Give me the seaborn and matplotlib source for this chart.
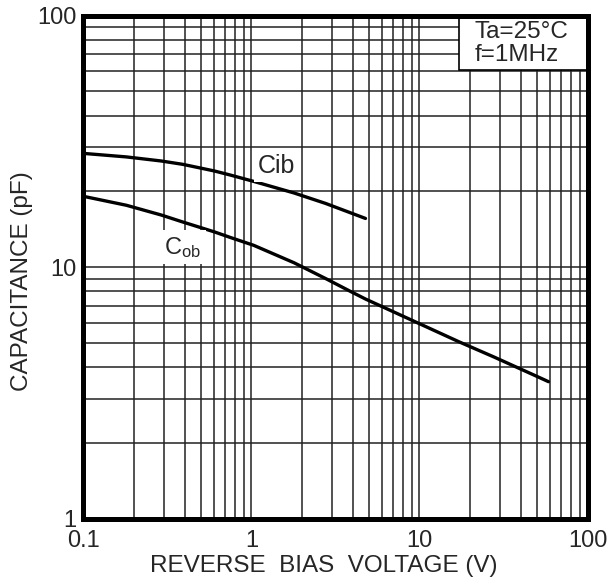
import numpy as np
import pandas as pd
import matplotlib
matplotlib.use("Agg")
import matplotlib.pyplot as plt
from matplotlib.patches import Rectangle
from matplotlib.ticker import LogLocator, FixedLocator, FixedFormatter
import seaborn as sns

# Capacitance vs reverse bias voltage (Ta=25°C, f=1MHz)
cib_voltage = [0.1, 0.18, 0.29, 0.39, 0.6, 0.75, 1.03, 1.79, 2.76, 4.77]
cib_pf = [28.3, 27.4, 26.4, 25.6, 24.1, 23.2, 21.9, 19.7, 17.9, 15.6]

cob_voltage = [0.1, 0.18, 0.29, 0.39, 0.6, 0.75, 1.03, 1.79, 2.76, 3.88,
               4.77, 9.73, 17.1, 27.7, 48.4, 58.6]
cob_pf = [19.1, 17.6, 16.1, 15.1, 13.8, 13.1, 12.2, 10.4, 9.0, 8.0,
          7.46, 6.0, 5.05, 4.39, 3.71, 3.50]

x_ticks = [0.1, 1, 10, 100]
x_tick_labels = ["0.1", "1", "10", "100"]
y_ticks = [1, 10, 100]
y_tick_labels = ["1", "10", "100"]

df = pd.concat([
    pd.DataFrame({"V": cib_voltage, "C": cib_pf, "curve": "Cib"}),
    pd.DataFrame({"V": cob_voltage, "C": cob_pf, "curve": "Cob"}),
])

sns.set_style("white")
plt.rcParams["font.family"] = ["Liberation Sans", "DejaVu Sans"]
plt.rcParams["mathtext.fontset"] = "custom"
plt.rcParams["mathtext.rm"] = "Liberation Sans"
plt.rcParams["mathtext.it"] = "Liberation Sans"

fig = plt.figure(figsize=(6.08, 5.83), dpi=100)
ax = fig.add_axes([0.1373, 0.1106, 0.9663 - 0.1373, 0.9734 - 0.1106])

sns.lineplot(data=df, x="V", y="C", hue="curve", palette=["black", "black"],
             estimator=None, sort=True, linewidth=2.4, legend=False, ax=ax,
             zorder=4)

ax.set_xscale("log")
ax.set_yscale("log")
ax.set_xlim(0.1, 100)
ax.set_ylim(1, 100)

ax.xaxis.set_major_locator(FixedLocator(x_ticks))
ax.xaxis.set_major_formatter(FixedFormatter(x_tick_labels))
ax.yaxis.set_major_locator(FixedLocator(y_ticks))
ax.yaxis.set_major_formatter(FixedFormatter(y_tick_labels))
ax.xaxis.set_minor_locator(LogLocator(base=10, subs=np.arange(2, 10)))
ax.yaxis.set_minor_locator(LogLocator(base=10, subs=np.arange(2, 10)))
ax.xaxis.set_minor_formatter(plt.NullFormatter())
ax.yaxis.set_minor_formatter(plt.NullFormatter())

ax.grid(True, which="both", color="#222222", linewidth=1.1)
ax.set_axisbelow(True)
ax.tick_params(which="both", length=0)
ax.tick_params(axis="x", labelsize=17, pad=8)
ax.tick_params(axis="y", labelsize=17, pad=5)

for s in ax.spines.values():
    s.set_color("black")
    s.set_linewidth(3.6)
    s.set_zorder(6)

ax.set_xlabel("REVERSE  BIAS  VOLTAGE (V)", fontsize=17.5)
ax.set_ylabel("CAPACITANCE (pF)", fontsize=17.5)
ax.xaxis.set_label_coords(0.476, -0.072)
ax.yaxis.set_label_coords(-0.100, 0.472)

# curve labels
ax.text(1.41, 25.2, "Cib", fontsize=18, ha="center", va="center", zorder=5,
        bbox=dict(facecolor="white", edgecolor="none", pad=3))
ax.text(0.39, 12.0, r"C$_{\mathrm{ob}}$", fontsize=17, ha="center", va="center",
        zorder=5, bbox=dict(facecolor="white", edgecolor="none", pad=3))

# conditions box in the top-right corner
ax.add_patch(Rectangle((0.745, 0.8917), 0.255, 0.1083, transform=ax.transAxes,
                       facecolor="white", edgecolor="black", linewidth=1.2,
                       zorder=5))
ax.text(0.776, 0.99, "Ta=25°C\nf=1MHz", transform=ax.transAxes, fontsize=17.5,
        ha="left", va="top", linespacing=1.08, zorder=6)

fig.savefig("out.png", dpi=100)
